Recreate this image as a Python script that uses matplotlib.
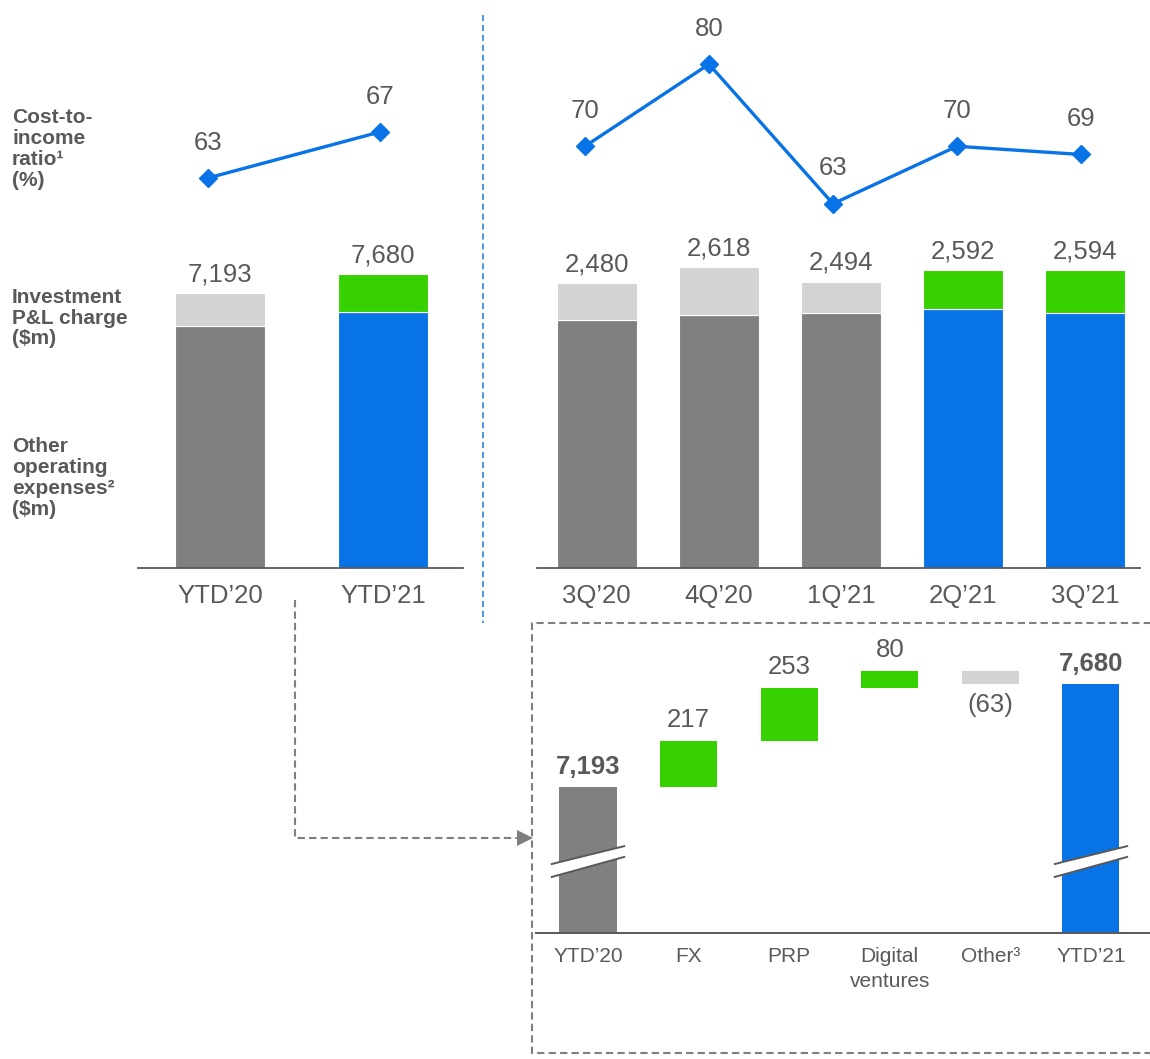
import matplotlib
matplotlib.use('Agg')
import matplotlib.pyplot as plt
import matplotlib.transforms as mtransforms
from matplotlib.patches import Polygon
from matplotlib.lines import Line2D

plt.rcParams['font.family'] = ['Liberation Sans', 'DejaVu Sans']

# ---- data ----
ytd_labels = ["YTD’20", "YTD’21"]
ytd_other = [6329, 6703]
ytd_invest = [864, 977]
ytd_total = [7193, 7680]
ytd_ratio = [63, 67]
ytd_new = [False, True]

q_labels = ["3Q’20", "4Q’20", "1Q’21", "2Q’21", "3Q’21"]
q_other = [2160, 2201, 2218, 2253, 2218]
q_invest = [320, 417, 276, 339, 376]
q_total = [2480, 2618, 2494, 2592, 2594]
q_ratio = [70, 80, 63, 70, 69]
q_new = [False, False, False, True, True]

wf_labels = ["YTD’20", "FX", "PRP", "Digital\nventures", "Other³", "YTD’21"]
wf_start = 7193
wf_steps = [217, 253, 80, -63]
wf_end = 7680

# ---- styles ----
TXT = '#595959'
DARK = '#808080'
LIGHT = '#d3d3d3'
BLUE = '#0873e6'
GREEN = '#37d100'
W, H = 1150, 1059

fig = plt.figure(figsize=(W / 100, H / 100), dpi=100)


def px_axes(x0, y0, x1, y1):
    # axes box given in pixel coords of the picture (y down)
    return fig.add_axes([x0 / W, 1 - y1 / H, (x1 - x0) / W, (y1 - y0) / H])


# overlay for connectors and frames
ov = px_axes(0, 0, W, H)
ov.set_xlim(0, W)
ov.set_ylim(H, 0)
ov.axis('off')
ov.plot([483, 483], [15, 623], color='#1a78e8', lw=1.1, ls=(0, (4, 2.5)))
dash = dict(color='#7f7f7f', lw=1.5, ls=(0, (3.5, 2)))
ov.plot([1152, 532, 532, 1152], [623, 623, 1053, 1053], **dash)
ov.plot([295, 295, 518], [600, 838, 838], **dash)
ov.add_patch(Polygon([(517, 830), (533, 838), (517, 846)], closed=True,
                     color='#7f7f7f', lw=0))

# left side labels
lab_kw = dict(fontsize=15, fontweight='bold', color=TXT, ha='left', va='center',
              linespacing=1.12)
ov.text(12, 149, "Cost-to-\nincome\nratio¹\n(%)", **lab_kw)
ov.text(12, 318, "Investment\nP&L charge\n($m)", **lab_kw)
ov.text(12, 478, "Other\noperating\nexpenses²\n($m)", **lab_kw)


def stacked(ax, labels, other, invest, total, new, width):
    for i in range(len(labels)):
        c1 = BLUE if new[i] else DARK
        c2 = GREEN if new[i] else LIGHT
        ax.bar(i, other[i], width, color=c1, edgecolor='white', lw=0.8)
        ax.bar(i, invest[i], width, bottom=other[i], color=c2,
               edgecolor='white', lw=0.8)
        ax.annotate(f"{total[i]:,}", (i, total[i]), xytext=(0, 13.5),
                    textcoords='offset points', ha='center', va='center',
                    fontsize=18.5, color=TXT)
        ax.annotate(labels[i], (i, 0), xytext=(0, -20.5),
                    textcoords='offset points', ha='center', va='center',
                    fontsize=18.5, color=TXT, annotation_clip=False)
    for s in ['top', 'left', 'right']:
        ax.spines[s].set_visible(False)
    ax.spines['bottom'].set_color(TXT)
    ax.spines['bottom'].set_linewidth(1.3)
    ax.set_xticks([])
    ax.set_yticks([])
    ax.patch.set_visible(False)


def ratio_line(ax, vals):
    xs = list(range(len(vals)))
    ax.plot(xs, vals, color=BLUE, lw=2.4, marker='D', ms=9)
    for i, v in enumerate(vals):
        ax.annotate(str(v), (i, v), xytext=(0, 25.5), textcoords='offset points',
                    ha='center', va='center', fontsize=18.5, color=TXT)
    ax.axis('off')


# YTD bars
ax1 = px_axes(138, 230, 463, 567.7)
stacked(ax1, ytd_labels, ytd_other, ytd_invest, ytd_total, ytd_new, 0.552)
ax1.set_xlim(-0.503, 1.491)
ax1.set_ylim(0, 8843)

# quarterly bars
ax2 = px_axes(537, 230, 1140, 567.7)
stacked(ax2, q_labels, q_other, q_invest, q_total, q_new, 0.66)
ax2.set_xlim(-0.49, 4.45)
ax2.set_ylim(0, 2945)

# ratio lines
ax3 = px_axes(138, 10, 463, 230)
ratio_line(ax3, ytd_ratio)
ax3.set_xlim(-0.407, 1.483)
ax3.set_ylim(58.48, 77.6)

ax4 = px_axes(537, 10, 1140, 230)
ratio_line(ax4, q_ratio)
ax4.set_xlim(-0.387, 4.476)
ax4.set_ylim(59.8, 86.6)

# waterfall
ax5 = px_axes(536, 625, 1150, 933)
ax5.set_xlim(-0.517, 5.587)
ax5.set_ylim(6501, 7959)
bw = 0.567
vals_kw = dict(textcoords='offset points', ha='center', va='center',
               fontsize=18.5, color=TXT)
ax5.bar(0, wf_start, bw, color=DARK)
ax5.annotate(f"{wf_start:,}", (0, wf_start), xytext=(0, 14), fontweight='bold',
             **vals_kw)
level = wf_start
for k, step in enumerate(wf_steps):
    i = k + 1
    if step >= 0:
        ax5.bar(i, step, bw, bottom=level, color=GREEN)
        ax5.annotate(str(step), (i, level + step), xytext=(0, 15), **vals_kw)
    else:
        ax5.bar(i, -step, bw, bottom=level + step, color=LIGHT)
        ax5.annotate(f"({-step})", (i, level + step), xytext=(0, -15), **vals_kw)
    level += step
n = len(wf_labels) - 1
ax5.bar(n, wf_end, bw, color=BLUE)
ax5.annotate(f"{wf_end:,}", (n, wf_end), xytext=(0, 14), fontweight='bold',
             **vals_kw)

for i, lab in enumerate(wf_labels):
    ax5.annotate(lab, (i, 0), xycoords=ax5.get_xaxis_transform(),
                 xytext=(0, -10), textcoords='offset points', ha='center',
                 va='top', fontsize=15, color=TXT, linespacing=1.4,
                 annotation_clip=False)

# axis break marks on the two totals
tr = mtransforms.blended_transform_factory(ax5.transData, ax5.transAxes)
for i in [0, n]:
    xl, xr = i - 0.36, i + 0.36
    ax5.add_patch(Polygon([(xl, 0.224), (xr, 0.282), (xr, 0.247), (xl, 0.182)],
                          closed=True, color='white', lw=0, transform=tr,
                          zorder=3, clip_on=False))
    for yl, yr in [(0.224, 0.282), (0.182, 0.247)]:
        ax5.add_line(Line2D([xl, xr], [yl, yr], color=TXT, lw=1.4,
                            transform=tr, zorder=4, clip_on=False))

for s in ['top', 'left', 'right']:
    ax5.spines[s].set_visible(False)
ax5.spines['bottom'].set_color(TXT)
ax5.spines['bottom'].set_linewidth(1.4)
ax5.set_xticks([])
ax5.set_yticks([])
ax5.patch.set_visible(False)

fig.savefig('out.png', dpi=100)
